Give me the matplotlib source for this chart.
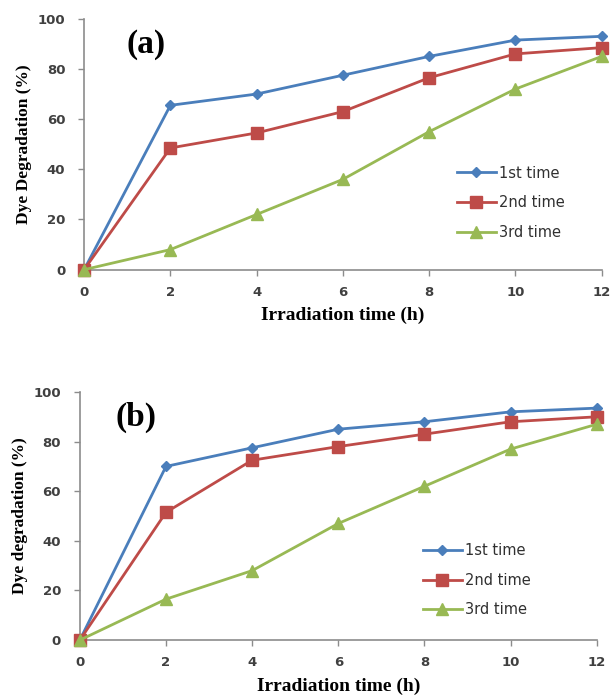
import matplotlib
matplotlib.use("Agg")
import matplotlib.pyplot as plt

hours = [0, 2, 4, 6, 8, 10, 12]
series_names = ["1st time", "2nd time", "3rd time"]

# panel (a)
a_first = [0, 65.5, 70, 77.5, 85, 91.5, 93]
a_second = [0, 48.5, 54.5, 63, 76.5, 86, 88.5]
a_third = [0, 8, 22, 36, 55, 72, 85]

# panel (b)
b_first = [0, 70, 77.5, 85, 88, 92, 93.5]
b_second = [0, 51.5, 72.5, 78, 83, 88, 90]
b_third = [0, 16.5, 28, 47, 62, 77, 87]

colors = ["#4a7ebb", "#be4b48", "#98b954"]
markers = ["D", "s", "^"]
msizes = [5.5, 8, 8]

fig = plt.figure(figsize=(6.14, 6.95), dpi=100)


def draw_panel(ax, data, tag, ylabel, leg_xy, tag_xy):
    for vals, name, c, m, ms in zip(data, series_names, colors, markers, msizes):
        ax.plot(hours, vals, color=c, marker=m, markersize=ms, linewidth=2.0,
                label=name, clip_on=False, zorder=3)
    ax.set_xlim(0, 12)
    ax.set_ylim(0, 100)
    ax.set_xticks(hours)
    ax.set_yticks([0, 20, 40, 60, 80, 100])
    for s in ["top", "right"]:
        ax.spines[s].set_visible(False)
    for s in ["left", "bottom"]:
        ax.spines[s].set_color("#8c8c8c")
        ax.spines[s].set_linewidth(1.2)
    ax.tick_params(axis="both", direction="out", length=4, width=1,
                   color="#8c8c8c", labelsize=9.5, labelcolor="#404040")
    ax.tick_params(axis="x", pad=7.5)
    ax.tick_params(axis="y", pad=9.5)
    for lbl in ax.get_xticklabels() + ax.get_yticklabels():
        lbl.set_fontweight("bold")
    ax.set_xlabel("Irradiation time (h)", family="Liberation Serif",
                  fontweight="bold", fontsize=14, labelpad=6)
    ax.set_ylabel(ylabel, family="Liberation Serif", fontweight="bold",
                  fontsize=12.5, labelpad=4)
    ax.text(tag_xy[0], tag_xy[1], tag, transform=ax.transAxes,
            family="Liberation Serif", fontweight="bold", fontsize=24,
            ha="center", va="center")
    ax.legend(loc="center left", bbox_to_anchor=leg_xy, frameon=False,
              borderaxespad=0, borderpad=0, handlelength=2.7,
              handletextpad=0.2, labelspacing=1.0,
              prop={"size": 10.5}, labelcolor="#303030")


ax1 = fig.add_axes([0.137, 0.612, 0.843, 0.361])
draw_panel(ax1, [a_first, a_second, a_third], "(a)", "Dye Degradation (%)",
           (0.72, 0.267), (0.12, 0.896))

ax2 = fig.add_axes([0.130, 0.079, 0.842, 0.357])
draw_panel(ax2, [b_first, b_second, b_third], "(b)", "Dye degradation (%)",
           (0.663, 0.241), (0.108, 0.896))

fig.savefig("out.png", dpi=100)
